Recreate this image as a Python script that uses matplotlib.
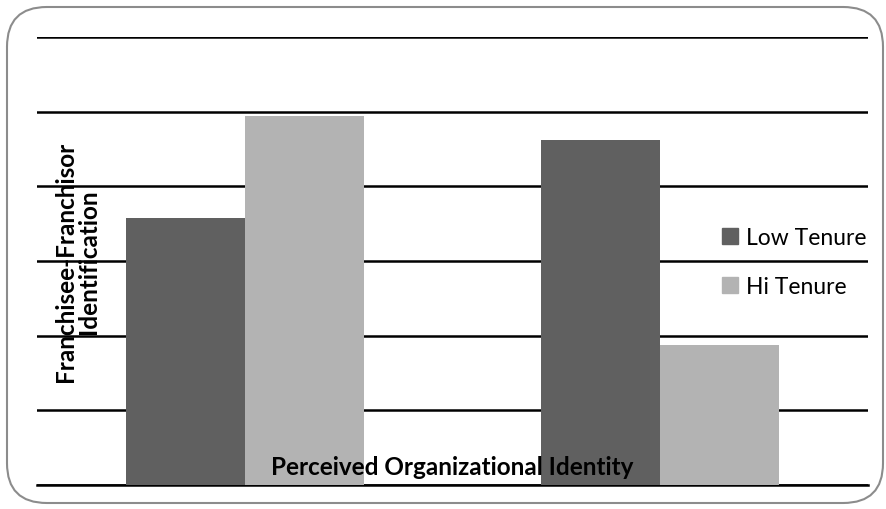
import matplotlib
matplotlib.use('Agg')
import numpy as np
import matplotlib.pyplot as plt
from matplotlib.patches import FancyBboxPatch, Patch

groups = ['Low Org. Identity', 'High Org. Identity']
series = ['Low Tenure', 'Hi Tenure']
low_tenure = [3.57, 4.62]
hi_tenure = [4.94, 1.87]
colors = ['#606060', '#b3b3b3']

plt.rcParams['font.family'] = ['Lato', 'DejaVu Sans']

fig = plt.figure(figsize=(8.86, 5.10), dpi=100)

# rounded frame round the chart
frame = FancyBboxPatch((7/886, 6/510), 876/886, 496/510,
	boxstyle='round,pad=0,rounding_size=0.045', transform=fig.transFigure,
	facecolor='white', edgecolor='#8c8c8c', linewidth=1.5, mutation_aspect=886/510, zorder=-5)
fig.patches.append(frame)

ax = fig.add_axes([37/886, 24/510, 831/886, 448/510])
ax.set_facecolor('none')
x = np.arange(len(groups))
w = 0.286
ax.bar(x - w/2, low_tenure, w, color=colors[0], zorder=3)
ax.bar(x + w/2, hi_tenure, w, color=colors[1], zorder=3)

ax.set_xlim(-0.5, 1.5)
ax.set_ylim(0, 6)
ax.set_yticks(np.arange(0, 7, 1))
ax.yaxis.grid(True, color='black', linewidth=1.8, zorder=1)
ax.set_axisbelow(True)
ax.tick_params(left=False, bottom=False, labelleft=False, labelbottom=False)
for s in ['left', 'right', 'top']:
	ax.spines[s].set_visible(False)
ax.spines['bottom'].set_linewidth(1.8)
ax.spines['bottom'].set_zorder(1)

fig.text(452/886, 1 - 468/510, 'Perceived Organizational Identity', ha='center', va='center',
	fontsize=17.5, fontweight='bold', zorder=5)
fig.text(77/886, 1 - 262/510, 'Franchisee-Franchisor\nIdentification', ha='center', va='center',
	rotation=90, fontsize=17.5, fontweight='bold', linespacing=0.95)

handles = [Patch(color=colors[0], label=series[0]), Patch(color=colors[1], label=series[1])]
ax.legend(handles=handles, loc='center left', bbox_to_anchor=(722/886, 1 - 263/510),
	bbox_transform=fig.transFigure, frameon=False, fontsize=16.5, handlelength=0.7,
	handleheight=0.7, handletextpad=0.35, labelspacing=1.2, borderaxespad=0, borderpad=0)

fig.savefig('out.png', dpi=100)
